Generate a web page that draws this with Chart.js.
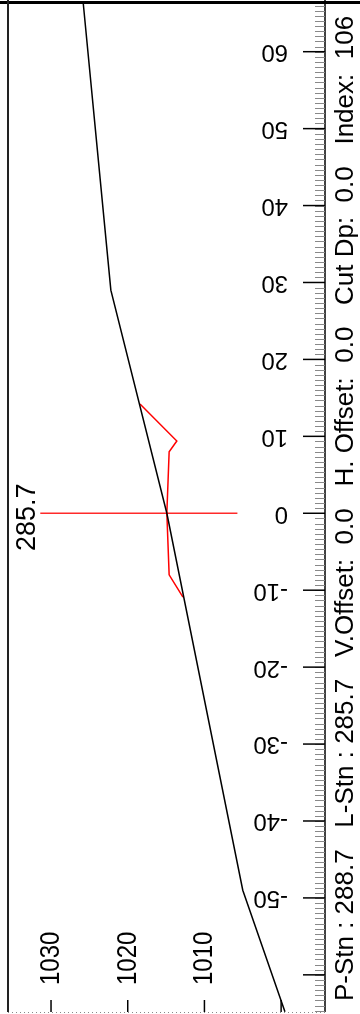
<!DOCTYPE html>
<html>
<head>
<meta charset="utf-8">
<script src="https://cdn.jsdelivr.net/npm/chart.js@4.4.1/dist/chart.umd.min.js"></script>
<style>
  html, body { margin: 0; padding: 0; background: #fff; }
</style>
</head>
<body>
<canvas id="myChart" width="360" height="1014"></canvas>
<script>
// black profile line (vertical = distance, horizontal = pressure)
const dist = [66.3, 29.0, 0, -49.0, -64.8]
const pres = [1025.8, 1022.2, 1014.9, 1005.0, 999.5]

// red cut line
const cutDist = [14.2, 9.4, 8.0, 0, -8.0, -10.9]
const cutPres = [1018.4, 1013.6, 1014.6, 1014.9, 1014.6, 1012.8]

// station marker
const stnDist = [0, 0]
const stnPres = [1031.4, 1005.7]
const stnLabel = "285.7"

// ticks
const distTicks = [60, 50, 40, 30, 20, 10, 0, -10, -20, -30, -40, -50, -60]
const distLabels = ["60", "50", "40", "30", "20", "10", "0", "-10", "-20", "-30", "-40", "-50", ""]
const presTicks = [1030, 1020, 1010, 1000]
const presLabels = ["1030", "1020", "1010", ""]
const minorStep = 10 / 15

const infoText = "P-Stn : 288.7   L-Stn : 285.7   V.Offset:  0.0   H. Offset:  0.0   Cut Dp:  0.0   Index:  106"

function pts(xs, ys) {
  return xs.map((x, i) => ({ x: x, y: ys[i] }))
}

const frame = {
  id: 'frame',
  afterDraw(chart) {
    const c = chart.ctx
    const a = chart.chartArea
    const xs = chart.scales.x
    const ys = chart.scales.y
    c.save()

    // top border
    c.strokeStyle = '#000'
    c.lineWidth = 3
    c.beginPath(); c.moveTo(0, 2.5); c.lineTo(chart.width, 2.5); c.stroke()

    // left border
    c.lineWidth = 2
    c.strokeStyle = '#222'
    c.beginPath(); c.moveTo(a.left, 0); c.lineTo(a.left, a.bottom); c.stroke()

    // right axis line
    c.lineWidth = 1.5
    c.strokeStyle = '#000'
    c.beginPath(); c.moveTo(a.right, 0); c.lineTo(a.right, a.bottom); c.stroke()

    // bottom dotted line
    c.strokeStyle = '#888'
    c.lineWidth = 1
    c.setLineDash([1, 3])
    c.beginPath(); c.moveTo(a.left, a.bottom + 0.5); c.lineTo(a.right, a.bottom + 0.5); c.stroke()
    c.setLineDash([])

    // minor ticks on right axis
    c.strokeStyle = '#888'
    c.lineWidth = 1
    let start = Math.ceil(ys.min / minorStep) * minorStep
    for (let v = start; v <= ys.max; v += minorStep) {
      const py = Math.round(ys.getPixelForValue(v)) + 0.5
      c.beginPath(); c.moveTo(a.right - 10, py); c.lineTo(a.right, py); c.stroke()
    }

    // major ticks + labels on right axis
    c.strokeStyle = '#000'
    c.lineWidth = 1.5
    c.fillStyle = '#000'
    c.font = '24px "Liberation Sans", Arial, sans-serif'
    distTicks.forEach((v, i) => {
      const py = ys.getPixelForValue(v)
      c.beginPath(); c.moveTo(a.right - 22, py); c.lineTo(a.right, py); c.stroke()
      if (distLabels[i]) {
        c.save()
        c.translate(a.right - 37, py)
        c.rotate(Math.PI)
        c.textAlign = 'left'
        c.textBaseline = 'middle'
        c.fillText(distLabels[i], 0, 0)
        c.restore()
      }
    })

    // bottom ticks + labels
    presTicks.forEach((p, i) => {
      const px = xs.getPixelForValue(p)
      c.beginPath(); c.moveTo(px, a.bottom - 12); c.lineTo(px, a.bottom); c.stroke()
      if (presLabels[i]) {
        c.save()
        c.translate(px, a.bottom - 27)
        c.rotate(-Math.PI / 2)
        c.scale(1, 1.18)
        c.textAlign = 'left'
        c.textBaseline = 'middle'
        c.fillText(presLabels[i], 0, 0)
        c.restore()
      }
    })

    // station label
    c.save()
    c.font = '27px "Liberation Sans", Arial, sans-serif'
    c.translate(xs.getPixelForValue(stnPres[0]) - 13, ys.getPixelForValue(0) + 4)
    c.rotate(-Math.PI / 2)
    c.textAlign = 'center'
    c.textBaseline = 'middle'
    c.fillText(stnLabel, 0, 0)
    c.restore()

    // info text on the right
    c.save()
    c.font = '26px "Liberation Sans", Arial, sans-serif'
    c.translate(a.right + 21, (a.top + a.bottom) / 2 + 1)
    c.rotate(-Math.PI / 2)
    c.textAlign = 'center'
    c.textBaseline = 'middle'
    c.fillText(infoText, 0, 0, a.bottom - a.top + 4)
    c.restore()

    c.restore()
  }
}

const ctx = document.getElementById('myChart')
new Chart(ctx, {
  type: 'line',
  data: {
    datasets: [
      { data: pts(pres, dist), borderColor: '#000', borderWidth: 1.5, pointRadius: 0, tension: 0 },
      { data: pts(cutPres, cutDist), borderColor: '#ff0000', borderWidth: 1.5, pointRadius: 0, tension: 0 },
      { data: pts(stnPres, stnDist), borderColor: '#ff2a2a', borderWidth: 1.5, pointRadius: 0, tension: 0 }
    ]
  },
  options: {
    responsive: false,
    animation: false,
    devicePixelRatio: 1,
    layout: { padding: { left: 8, right: 35, top: 3, bottom: 2 } },
    plugins: { legend: { display: false }, tooltip: { enabled: false } },
    scales: {
      x: { type: 'linear', reverse: true, min: 994.28, max: 1035.61, display: false },
      y: { type: 'linear', min: -64.83, max: 66.33, display: false }
    }
  },
  plugins: [frame]
})
</script>
</body>
</html>
